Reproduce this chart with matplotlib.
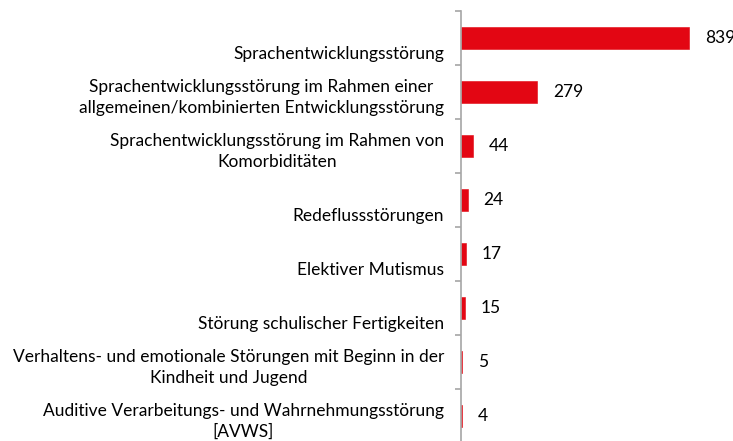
import matplotlib
matplotlib.use("Agg")
from matplotlib import pyplot as plt

categories = [
    "Sprachentwicklungsstörung",
    "Sprachentwicklungsstörung im Rahmen einer\nallgemeinen/kombinierten Entwicklungsstörung",
    "Sprachentwicklungsstörung im Rahmen von\nKomorbiditäten",
    "Redeflussstörungen",
    "Elektiver Mutismus",
    "Störung schulischer Fertigkeiten",
    "Verhaltens- und emotionale Störungen mit Beginn in der\nKindheit und Jugend",
    "Auditive Verarbeitungs- und Wahrnehmungsstörung\n[AVWS]",
]
values = [839, 279, 44, 24, 17, 15, 5, 4]

plt.rcParams['font.family'] = ['Lato', 'DejaVu Sans']

fig = plt.figure(figsize=(7.33, 4.41), dpi=100)
ax = fig.add_axes([461 / 733, (441 - 443) / 441, 272 / 733, 432 / 441])

pos = list(range(len(values)))
ax.barh(pos, values, height=0.41, color="#E30613", edgecolor="#E30613", linewidth=0.4)
ax.set_xlim(0, 1000)
ax.set_ylim(len(values) - 0.5, -0.5)

for sp in ["top", "right", "bottom"]:
    ax.spines[sp].set_visible(False)
ax.spines["left"].set_color("#A6A6A6")
ax.spines["left"].set_linewidth(1.2)
ax.set_xticks([])
ax.set_yticks([p - 0.5 for p in range(len(values) + 1)])
ax.set_yticklabels([])
ax.tick_params(axis="y", length=4, width=1.2, color="#A6A6A6", direction="out")

for i, (lab, v) in enumerate(zip(categories, values)):
    dy = -4 if "\n" in lab else -11.5
    ax.annotate(lab, xy=(0, i), xycoords=("axes fraction", "data"),
                xytext=(-12.2, dy), textcoords="offset points",
                ha="right", va="center", multialignment="center",
                fontsize=12.5, color="#000000", linespacing=1.38)
    ax.annotate(str(v), xy=(v, i), xytext=(11.5, 0), textcoords="offset points",
                ha="left", va="center", fontsize=12.5, color="#000000",
                annotation_clip=False)

fig.savefig("out.png", dpi=100)
